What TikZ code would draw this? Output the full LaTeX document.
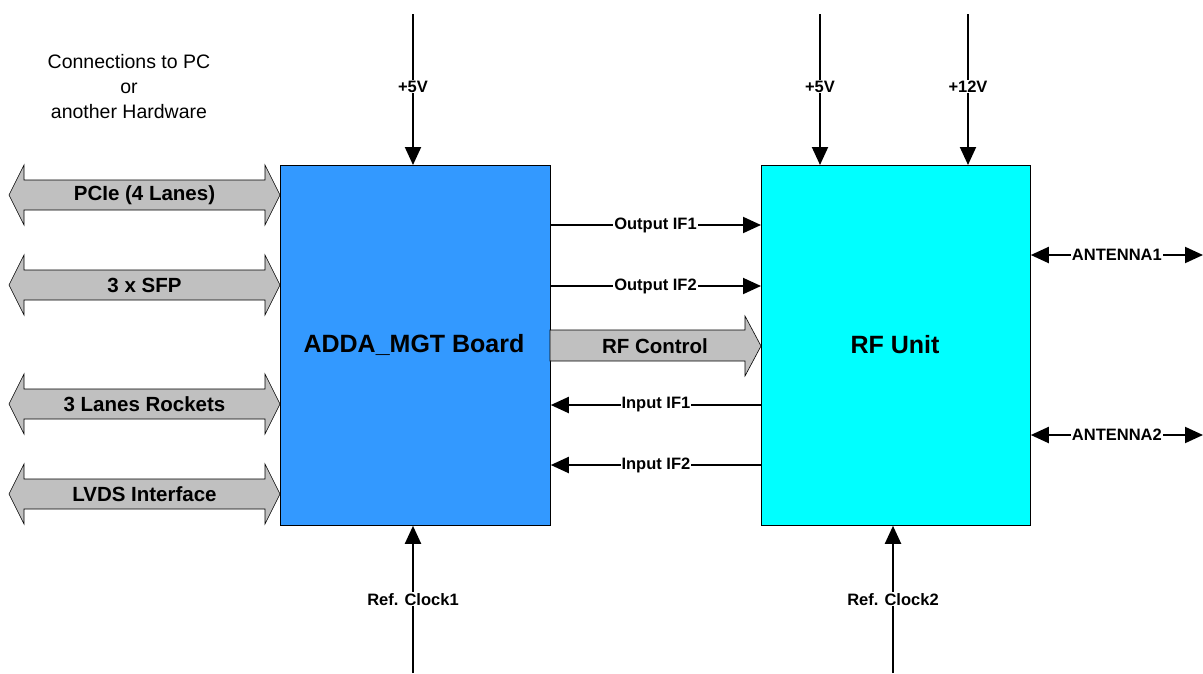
\documentclass[tikz,border=0pt]{standalone}
\usepackage{fontspec}
\setmainfont{Liberation Sans}
\usetikzlibrary{arrows.meta}
\definecolor{addablue}{HTML}{3399FF}
\definecolor{rfcyan}{HTML}{00FFFF}
\definecolor{fatgray}{HTML}{C0C0C0}
\tikzset{
  block/.style={draw=black, line width=0.8pt, anchor=north west, inner sep=0pt},
  blocklabel/.style={font=\bfseries\fontsize{25}{30}\selectfont},
  sig/.style={line width=2pt, -{Triangle[length=18pt,width=16pt]}},
  bisig/.style={line width=2pt, {Triangle[length=18pt,width=16pt]}-{Triangle[length=18pt,width=16pt]}},
  siglabel/.style={fill=white, inner sep=1pt, font=\bfseries\fontsize{16.5}{19}\selectfont},
  fat/.style={draw=black, line width=0.6pt, fill=fatgray},
  fatlabel/.style={font=\bfseries\fontsize{20.5}{24}\selectfont},
  note/.style={font=\fontsize{19.5}{25}\selectfont, align=center}
}
% fat double arrow: left tip x, right tip x, centre y, label
\newcommand{\fatdouble}[4]{%
  \draw[fat] (#1,#3) -- (#1+15,#3-30) -- (#1+15,#3-15) -- (#2-15,#3-15) -- (#2-15,#3-30)
    -- (#2,#3) -- (#2-15,#3+30) -- (#2-15,#3+15) -- (#1+15,#3+15) -- (#1+15,#3+30) -- cycle;
  \node[fatlabel] at ({(#1+#2)/2},#3) {#4};}
\begin{document}
\begin{tikzpicture}[x=1pt,y=-1pt]
\useasboundingbox (0,0) rectangle (1203,673);

% main blocks
\node[block, fill=addablue, minimum width=270pt, minimum height=360pt] (adda) at (280,165) {};
\node[blocklabel] (addalabel) at (414,345) {ADDA\_MGT Board};
\node[block, fill=rfcyan, minimum width=269pt, minimum height=360pt] (rf) at (761,165) {};
\node[blocklabel] (rflabel) at (895,345) {RF Unit};

% host side interfaces
\node[note] (hostnote) at (129,87) {Connections to PC\\or\\another Hardware};
\fatdouble{9}{280}{195}{PCIe (4 Lanes)}
\fatdouble{9}{280}{285}{3 x SFP}
\fatdouble{9}{280}{404}{3 Lanes Rockets}
\fatdouble{9}{280}{494}{LVDS Interface}

% RF control bus
\draw[fat] (550,330) -- (745,330) -- (745,316) -- (761,346) -- (745,376) -- (745,361) -- (550,361) -- cycle;
\node[fatlabel] (rfctl) at (655,346) {RF Control};

% power inputs
\coordinate (p5a) at (413,14);
\coordinate (p5b) at (820,14);
\coordinate (p12) at (968,14);
\draw[sig] (p5a) -- (p5a |- adda.north) node[siglabel, pos=0.48] {+5V};
\draw[sig] (p5b) -- (p5b |- rf.north) node[siglabel, pos=0.48] {+5V};
\draw[sig] (p12) -- (p12 |- rf.north) node[siglabel, pos=0.48] {+12V};

% reference clocks
\coordinate (clk1) at (413,673);
\coordinate (clk2) at (893,673);
\draw[sig] (clk1) -- (clk1 |- adda.south) node[siglabel, pos=0.5] {Ref. Clock1};
\draw[sig] (clk2) -- (clk2 |- rf.south) node[siglabel, pos=0.5] {Ref. Clock2};

% IF signals between the boards
\coordinate (o1) at (550,225);
\coordinate (o2) at (550,286);
\coordinate (i1) at (761,405);
\coordinate (i2) at (761,465);
\draw[sig] (o1) -- (o1 -| rf.west) node[siglabel, pos=0.5] {Output IF1};
\draw[sig] (o2) -- (o2 -| rf.west) node[siglabel, pos=0.5] {Output IF2};
\draw[sig] (i1) -- (i1 -| adda.east) node[siglabel, pos=0.5] {Input IF1};
\draw[sig] (i2) -- (i2 -| adda.east) node[siglabel, pos=0.5] {Input IF2};

% antennas
\coordinate (ant1) at (1203,255);
\coordinate (ant2) at (1203,435);
\draw[bisig] (ant1 -| rf.east) -- (ant1) node[siglabel, pos=0.5] {ANTENNA1};
\draw[bisig] (ant2 -| rf.east) -- (ant2) node[siglabel, pos=0.5] {ANTENNA2};
\end{tikzpicture}
\end{document}
